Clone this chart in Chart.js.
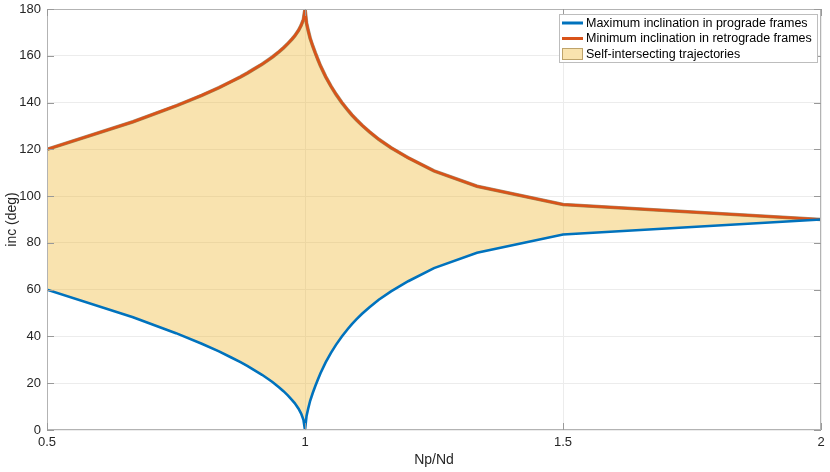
<!DOCTYPE html>
<html>
<head>
<meta charset="utf-8">
<title>Inclination vs Np/Nd</title>
<script src="https://cdn.jsdelivr.net/npm/chart.js@4.4.1/dist/chart.umd.min.js"></script>
<style>
    html, body { margin: 0; padding: 0; background: #fff; }
    #wrap { width: 830px; height: 472px; }
</style>
</head>
<body>
<div id="wrap"><canvas id="incChart" width="830" height="472"></canvas></div>
<script>
// Np/Nd sample ratios (shared by both curves)
const ratios = [0.5, 0.6667, 0.75, 0.8, 0.8333, 0.8571, 0.875, 0.8889, 0.9, 0.9167, 0.9286,
    0.9375, 0.95, 0.9583, 0.9667, 0.975, 0.98, 0.9875, 0.9925, 0.997, 1,
    1.003, 1.006, 1.01, 1.015, 1.02, 1.025, 1.03, 1.04, 1.05, 1.06, 1.0714, 1.0833,
    1.0909, 1.1, 1.1111, 1.125, 1.1429, 1.1667, 1.2, 1.25, 1.3333, 1.5, 2];

// Maximum inclination in prograde frames (deg)
const progradeMax = [60, 48.2, 41.4, 36.9, 33.6, 31, 29, 27.3, 25.8, 23.6, 21.8,
    20.4, 18.2, 16.6, 14.8, 12.8, 11.5, 9.1, 7, 4.4, 0,
    6, 9, 12.5, 15.8, 18.8, 21.6, 24.3, 28.9, 32.9, 36.4, 40, 43.3,
    45.3, 47.4, 49.8, 52.5, 55.7, 59.3, 63.6, 69.2, 75.8, 83.6, 90];

// Minimum inclination in retrograde frames (deg)
const retrogradeMin = [120, 131.8, 138.6, 143.1, 146.4, 149, 151, 152.7, 154.2, 156.4, 158.2,
    159.6, 161.8, 163.4, 165.2, 167.2, 168.5, 170.9, 173, 175.6, 180,
    174, 171, 167.5, 164.2, 161.2, 158.4, 155.7, 151.1, 147.1, 143.6, 140, 136.7,
    134.7, 132.6, 130.2, 127.5, 124.3, 120.7, 116.4, 110.8, 104.2, 96.4, 90];

const xTicks = [0.5, 1, 1.5, 2];
const yTicks = [0, 20, 40, 60, 80, 100, 120, 140, 160, 180];

const labels = [
    'Maximum inclination in prograde frames',
    'Minimum inclination in retrograde frames',
    'Self-intersecting trajectories'
];

const BLUE = '#0072BD';
const ORANGE = '#D95319';
const FILL = 'rgba(237, 177, 32, 0.36)';
const AXIS_GRAY = '#b3b3b3';
const TEXT = '#262626';
const FONT = '"Liberation Sans", Arial, Helvetica, sans-serif';

function toPoints(values) {
    return ratios.map((r, i) => ({ x: r, y: values[i] }));
}

// Box around plot area with inward tick marks (MATLAB style)
const boxPlugin = {
    id: 'boxPlugin',
    afterDatasetsDraw(chart) {
        const { ctx, chartArea: a, scales } = chart;
        ctx.save();
        ctx.strokeStyle = AXIS_GRAY;
        ctx.lineWidth = 1;
        ctx.strokeRect(a.left + 0.5, a.top + 0.5, a.right - a.left - 1, a.bottom - a.top - 1);
        ctx.strokeStyle = '#999';
        ctx.beginPath();
        yTicks.forEach(v => {
            const y = Math.round(scales.y.getPixelForValue(v)) + 0.5;
            ctx.moveTo(a.left, y); ctx.lineTo(a.left + 7, y);
            ctx.moveTo(a.right, y); ctx.lineTo(a.right - 7, y);
        });
        xTicks.forEach(v => {
            const x = Math.round(scales.x.getPixelForValue(v)) + 0.5;
            ctx.moveTo(x, a.bottom); ctx.lineTo(x, a.bottom - 7);
            ctx.moveTo(x, a.top); ctx.lineTo(x, a.top + 7);
        });
        ctx.stroke();
        ctx.restore();
    }
};

// Legend box drawn inside the top-right corner of the plot area
const insideLegend = {
    id: 'insideLegend',
    afterDraw(chart) {
        const { ctx, chartArea: a } = chart;
        const w = 258, h = 48, rowH = 15.5;
        const x0 = a.right - 4 - w, y0 = a.top + 5;
        ctx.save();
        ctx.fillStyle = '#fff';
        ctx.fillRect(x0, y0, w, h);
        ctx.strokeStyle = '#bdbdbd';
        ctx.lineWidth = 1;
        ctx.strokeRect(x0 + 0.5, y0 + 0.5, w, h);
        ctx.font = '12.5px ' + FONT;
        ctx.textBaseline = 'middle';
        labels.forEach((label, i) => {
            const cy = y0 + 9 + i * rowH;
            if (i < 2) {
                ctx.strokeStyle = i === 0 ? BLUE : ORANGE;
                ctx.lineWidth = 3;
                ctx.beginPath();
                ctx.moveTo(x0 + 3, cy);
                ctx.lineTo(x0 + 24, cy);
                ctx.stroke();
            } else {
                ctx.fillStyle = FILL;
                ctx.fillRect(x0 + 3, cy - 6, 21, 12);
                ctx.strokeStyle = 'rgba(150, 120, 60, 0.6)';
                ctx.lineWidth = 1;
                ctx.strokeRect(x0 + 3.5, cy - 5.5, 20, 11);
            }
            ctx.fillStyle = '#000';
            ctx.fillText(label, x0 + 27, cy + 0.5);
        });
        ctx.restore();
    }
};

function renderChart() {
    const ctx = document.getElementById('incChart').getContext('2d');
    new Chart(ctx, {
        type: 'line',
        data: {
            datasets: [{
                label: labels[0],
                data: toPoints(progradeMax),
                borderColor: BLUE,
                borderWidth: 2.6,
                pointRadius: 0,
                tension: 0,
                fill: false
            }, {
                label: labels[1],
                data: toPoints(retrogradeMin),
                borderColor: ORANGE,
                borderWidth: 2.6,
                pointRadius: 0,
                tension: 0,
                fill: false
            }, {
                label: labels[2],
                data: toPoints(retrogradeMin),
                borderColor: 'rgba(90, 60, 10, 0.55)',
                borderWidth: 3.6,
                backgroundColor: FILL,
                pointRadius: 0,
                tension: 0,
                fill: { target: 0 }
            }]
        },
        options: {
            responsive: false,
            animation: false,
            layout: { padding: { left: 0, right: 9, top: 9, bottom: 0 } },
            plugins: {
                legend: { display: false },
                tooltip: { enabled: false }
            },
            scales: {
                x: {
                    type: 'linear',
                    min: 0.5,
                    max: 2,
                    afterBuildTicks: s => { s.ticks = xTicks.map(v => ({ value: v })); },
                    afterFit: s => { s.height = 42; s.paddingLeft = 0; s.paddingRight = 0; },
                    grid: { color: '#ececec', drawTicks: false },
                    border: { display: false },
                    ticks: {
                        color: TEXT,
                        font: { family: FONT, size: 13 },
                        padding: 5,
                        maxRotation: 0,
                        callback: v => String(v)
                    },
                    title: {
                        display: true,
                        text: 'Np/Nd',
                        color: TEXT,
                        font: { family: FONT, size: 14 },
                        padding: { top: 2, bottom: 3 }
                    }
                },
                y: {
                    min: 0,
                    max: 180,
                    afterBuildTicks: s => { s.ticks = yTicks.map(v => ({ value: v })); },
                    afterFit: s => { s.width = 47; s.paddingTop = 0; s.paddingBottom = 0; },
                    grid: { color: '#ececec', drawTicks: false },
                    border: { display: false },
                    ticks: {
                        color: TEXT,
                        font: { family: FONT, size: 13 },
                        padding: 6
                    },
                    title: {
                        display: true,
                        text: 'inc (deg)',
                        color: TEXT,
                        font: { family: FONT, size: 14 },
                        padding: { top: 4, bottom: 2 }
                    }
                }
            }
        },
        plugins: [boxPlugin, insideLegend]
    });
}

document.addEventListener('DOMContentLoaded', renderChart);
</script>
</body>
</html>
